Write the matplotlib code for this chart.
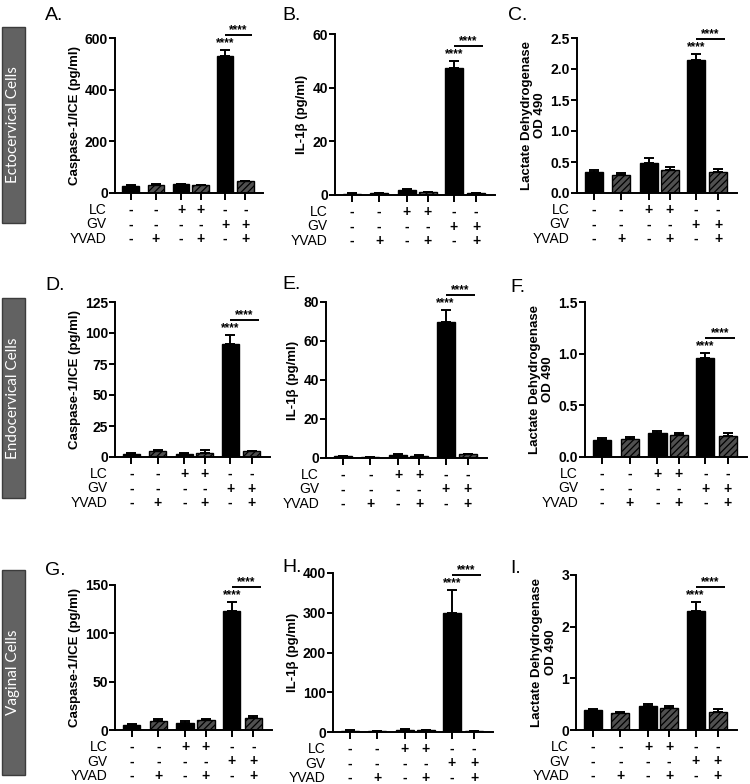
import numpy as np
import matplotlib
matplotlib.use("Agg")
import matplotlib.pyplot as plt
import matplotlib.transforms as mtransforms
from matplotlib.patches import Rectangle

plt.rcParams['font.family'] = ['Liberation Sans', 'DejaVu Sans']
plt.rcParams['hatch.linewidth'] = 0.9

W, H = 750, 784

# bar layout (pairs 3/4 and 5/6 sit closer together)
xpos = [0, 1.3, 2.6, 3.6, 4.85, 5.9]
hatched = [False, True, False, True, False, True]

lc = ['-', '-', '+', '+', '-', '-']
gv = ['-', '-', '-', '-', '+', '+']
yvad = ['-', '+', '-', '+', '-', '+']

casp_label = 'Caspase-1/ICE (pg/ml)'
il_label = 'IL-1\u03b2 (pg/ml)'
ldh_label = 'Lactate Dehydrogenase\nOD 490'

# panel A-I: means and SEM (upper only)
a_mean = [28, 30, 33, 30, 530, 45]
a_err = [3, 3, 3, 2, 22, 3]
b_mean = [0.3, 0.6, 1.9, 1.1, 47.5, 0.7]
b_err = [0.3, 0.2, 0.4, 0.2, 2.3, 0.2]
c_mean = [0.34, 0.29, 0.48, 0.37, 2.14, 0.34]
c_err = [0.03, 0.04, 0.08, 0.05, 0.10, 0.04]
d_mean = [2.5, 5.2, 2.5, 3.5, 91, 4.5]
d_err = [0.5, 0.5, 0.8, 2.0, 7.5, 0.5]
e_mean = [0.8, 0.3, 1.5, 1.2, 69.5, 1.8]
e_err = [0.3, 0.1, 0.3, 0.2, 6.5, 0.4]
f_mean = [0.165, 0.175, 0.23, 0.215, 0.96, 0.205]
f_err = [0.015, 0.015, 0.02, 0.02, 0.045, 0.025]
g_mean = [5.5, 9.5, 7, 10.5, 123.5, 12.5]
g_err = [1, 1.5, 2.5, 1, 8.5, 1.5]
h_mean = [3, 2, 6, 5, 300, 2.5]
h_err = [1, 0.5, 1, 0.8, 57, 0.5]
i_mean = [0.38, 0.32, 0.46, 0.43, 2.3, 0.35]
i_err = [0.03, 0.03, 0.05, 0.04, 0.18, 0.05]

# (letter, mean, err, ylabel, yticks, tick format, pixel box left,right,top,bottom, letter xy)
panels = [
    ('A.', a_mean, a_err, casp_label, [0, 200, 400, 600], '%g', (115, 263, 38, 193), (45, 20)),
    ('B.', b_mean, b_err, il_label, [0, 20, 40, 60], '%g', (335, 495, 34, 195), (282, 20)),
    ('C.', c_mean, c_err, ldh_label, [0, 0.5, 1.0, 1.5, 2.0, 2.5], '%.1f', (577, 737, 38, 193), (508, 20)),
    ('D.', d_mean, d_err, casp_label, [0, 25, 50, 75, 100, 125], '%g', (115, 270, 302, 457), (45, 290)),
    ('E.', e_mean, e_err, il_label, [0, 20, 40, 60, 80], '%g', (326, 487, 302, 458), (282, 289)),
    ('F.', f_mean, f_err, ldh_label, [0, 0.5, 1.0, 1.5], '%.1f', (585, 747, 302, 457), (510, 292)),
    ('G.', g_mean, g_err, casp_label, [0, 50, 100, 150], '%g', (115, 272, 585, 730), (45, 575)),
    ('H.', h_mean, h_err, il_label, [0, 100, 200, 300, 400], '%g', (333, 493, 573, 732), (282, 572)),
    ('I.', i_mean, i_err, ldh_label, [0, 1, 2, 3], '%g', (576, 737, 575, 730), (510, 573)),
]

fig = plt.figure(figsize=(W / 100, H / 100), dpi=100)

px = 0.72  # points per pixel at dpi 100

for letter, mean, err, ylab, yt, fmt, box, lxy in panels:
    l, r, t, b = box
    ax = fig.add_axes([l / W, 1 - b / H, (r - l) / W, (b - t) / H])
    top = yt[-1]
    for k in range(6):
        if hatched[k]:
            ax.bar(xpos[k], mean[k], width=0.85, color='#505050', edgecolor='black',
                   hatch='/////', linewidth=1.0, zorder=2)
        else:
            ax.bar(xpos[k], mean[k], width=0.85, color='black', edgecolor='black',
                   linewidth=1.0, zorder=2)
    ax.errorbar(xpos, mean, yerr=[np.zeros(6), err], fmt='none', ecolor='black',
                elinewidth=1.4, capsize=3.3, capthick=1.4, zorder=1)
    ax.set_xlim(-0.8, 6.8)
    ax.set_ylim(0, top)
    ax.set_yticks(yt, labels=[fmt % v for v in yt], fontweight='bold', fontsize=10)
    ax.set_xticks(xpos, labels=[])
    for s in ['top', 'right']:
        ax.spines[s].set_visible(False)
    for s in ['left', 'bottom']:
        ax.spines[s].set_linewidth(1.4)
    ax.tick_params(axis='y', length=4, width=1.4, pad=1)
    ax.tick_params(axis='x', length=5, width=1.4)
    ax.set_ylabel(ylab, fontsize=9.5, fontweight='bold', labelpad=3)
    ax.patch.set_alpha(0)

    # significance marks, offset in pixels above the error bar of bar 5
    peak = mean[4] + err[4]
    x_end = xpos[5] + 0.35
    ax.annotate('****', xy=(xpos[4], peak), xytext=(0, 7 * px), textcoords='offset points',
                ha='center', va='center', fontsize=8.5, fontweight='bold', annotation_clip=False)
    tr = ax.transData + mtransforms.ScaledTranslation(0, 15 / 100, fig.dpi_scale_trans)
    ax.plot([xpos[4], x_end], [peak, peak], color='black', lw=1.4,
            clip_on=False, solid_capstyle='butt', transform=tr)
    ax.annotate('****', xy=((xpos[4] + x_end) / 2, peak), xytext=(0, 20 * px),
                textcoords='offset points', ha='center', va='center', fontsize=8.5,
                fontweight='bold', annotation_clip=False)

    # treatment table
    for row, (name, signs) in enumerate([('LC', lc), ('GV', gv), ('YVAD', yvad)]):
        dy = -(17 + 14.5 * row) * px
        ax.annotate(name, xy=(xpos[0], 0), xycoords=('data', 'axes fraction'),
                    xytext=(-24 * px, dy), textcoords='offset points',
                    ha='right', va='center', fontsize=10, annotation_clip=False)
        for k in range(6):
            ax.annotate(signs[k], xy=(xpos[k], 0), xycoords=('data', 'axes fraction'),
                        xytext=(0, dy), textcoords='offset points',
                        ha='center', va='center', fontsize=10, fontweight='bold',
                        annotation_clip=False)

    fig.text(lxy[0] / W, 1 - lxy[1] / H, letter, fontsize=14, ha='left', va='baseline')

# row labels
rows = [('Ectocervical Cells', 27, 223), ('Endocervical Cells', 298, 498), ('Vaginal Cells', 570, 775)]
for name, y0, y1 in rows:
    fig.patches.append(Rectangle((2 / W, 1 - y1 / H), 23 / W, (y1 - y0) / H,
                                 transform=fig.transFigure, facecolor='#626262',
                                 edgecolor='#3c3c3c', linewidth=1.0))
    fig.text(13.5 / W, 1 - (y0 + y1) / 2 / H, name, rotation=90, color='white',
             ha='center', va='center', fontsize=11, family=['Lato', 'DejaVu Sans'])

fig.savefig('out.png', dpi=100)
